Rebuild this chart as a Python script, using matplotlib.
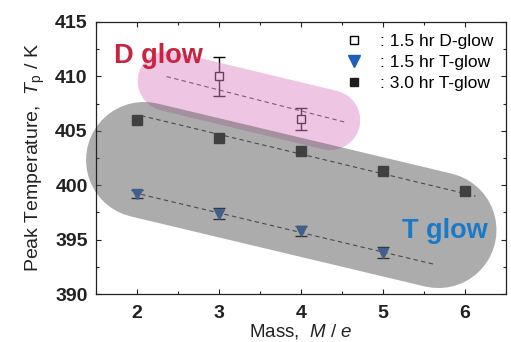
import numpy as np
import matplotlib
matplotlib.use("Agg")
import matplotlib.pyplot as plt
from matplotlib.lines import Line2D
from matplotlib.ticker import MultipleLocator

plt.rcParams['font.family'] = ['Liberation Sans', 'DejaVu Sans']
plt.rcParams['mathtext.fontset'] = 'custom'
plt.rcParams['mathtext.rm'] = 'Liberation Sans'
plt.rcParams['mathtext.it'] = 'Liberation Sans:italic'

# 峰值温度数据
mass_d = [3, 4]
tp_d15 = [410.0, 406.1]
err_d15 = [1.8, 1.0]

mass_t15 = [2, 3, 4, 5]
tp_t15 = [399.2, 397.4, 395.8, 393.8]
err_t15 = [0.4, 0.5, 0.5, 0.5]

mass_t30 = [2, 3, 4, 5, 6]
tp_t30 = [406.0, 404.3, 403.1, 401.3, 399.5]

# 拟合直线 (端点)
fit_d15_x = [2.36, 4.56]
fit_d15_y = [409.98, 405.75]
fit_t15_x = [2.05, 5.63]
fit_t15_y = [399.16, 392.73]
fit_t30_x = [2.05, 6.13]
fit_t30_y = [406.39, 399.0]

# 背景色带 (两端圆心)
band_d_x = [2.373, 4.357]
band_d_y = [409.56, 405.98]
band_t_x = [2.085, 5.678]
band_t_y = [402.32, 395.88]

fig = plt.figure(figsize=(5.11, 3.42), dpi=100)
ax = fig.add_axes([0.188, 0.140, 0.802, 0.796])

dash_kw = dict(color='#333333', lw=0.8, ls=(0, (4, 3)), zorder=2)
ax.plot(fit_d15_x, fit_d15_y, **dash_kw)
ax.plot(fit_t15_x, fit_t15_y, **dash_kw)
ax.plot(fit_t30_x, fit_t30_y, **dash_kw)

ax.errorbar(mass_d, tp_d15, yerr=err_d15, fmt='s', ms=6.3, mfc='white', mec='black',
            mew=1.0, ecolor='black', elinewidth=1.0, capsize=4.3, capthick=1.0, zorder=3)
ax.errorbar(mass_t15, tp_t15, yerr=err_t15, fmt='v', ms=7, mfc='#1f5fb8', mec='#1f5fb8',
            ecolor='black', elinewidth=1.0, capsize=4.3, capthick=1.0, zorder=3)
ax.plot(mass_t30, tp_t30, 's', ms=6.8, color='#1e1e1e', zorder=3)

# 半透明圆角色带，用粗线 + 圆头画
ax.plot(band_d_x, band_d_y, color='#dc86c6', alpha=0.48, lw=43.2,
        solid_capstyle='round', zorder=4, clip_on=False)
ax.plot(band_t_x, band_t_y, color='#606060', alpha=0.52, lw=83.5,
        solid_capstyle='round', zorder=5, clip_on=False)

ax.text(1.72, 411.26, 'D glow', color='#c9243f', fontsize=19.5, fontweight='bold',
        ha='left', va='baseline', zorder=6)
ax.text(5.228, 395.12, 'T glow', color='#1a7ac8', fontsize=19.5, fontweight='bold',
        ha='left', va='baseline', zorder=6)

ax.set_xlim(1.5, 6.5)
ax.set_ylim(390, 415)
ax.xaxis.set_major_locator(MultipleLocator(1))
ax.xaxis.set_minor_locator(MultipleLocator(0.5))
ax.yaxis.set_major_locator(MultipleLocator(5))
ax.yaxis.set_minor_locator(MultipleLocator(2.5))
ax.tick_params(which='both', direction='in', top=True, right=True, colors='#222222',
               width=0.8)
ax.tick_params(which='major', length=3.6, labelsize=14, pad=6)
ax.tick_params(which='minor', length=2)
ax.tick_params(axis='x', which='major', pad=8)
for lab in ax.get_xticklabels() + ax.get_yticklabels():
    lab.set_fontweight('bold')
    lab.set_color('#222222')
for sp in ax.spines.values():
    sp.set_linewidth(0.9)
    sp.set_color('#222222')
    sp.set_zorder(7)

ax.set_xlabel(r'Mass,  $M$ / $e$', fontsize=13.5, color='#222222', labelpad=0)
ax.set_ylabel(r'Peak Temperature,  $T_\mathrm{p}$ / K', fontsize=14, color='#222222',
              labelpad=6)

handles = [
    Line2D([], [], ls='none', marker='s', ms=6.3, mfc='white', mec='black', mew=1.0),
    Line2D([], [], ls='none', marker='v', ms=8, mfc='#1f5fb8', mec='#1f5fb8'),
    Line2D([], [], ls='none', marker='s', ms=6.3, color='#1e1e1e'),
]
labels = [': 1.5 hr D-glow', ': 1.5 hr T-glow', ': 3.0 hr T-glow']
ax.legend(handles, labels, loc='upper right', frameon=False, fontsize=12.5,
          handlelength=1.0, handletextpad=1.0, labelspacing=0.32,
          borderaxespad=0.2, borderpad=0.5, bbox_to_anchor=(1.0, 1.0))

fig.savefig('out.png', dpi=100)
